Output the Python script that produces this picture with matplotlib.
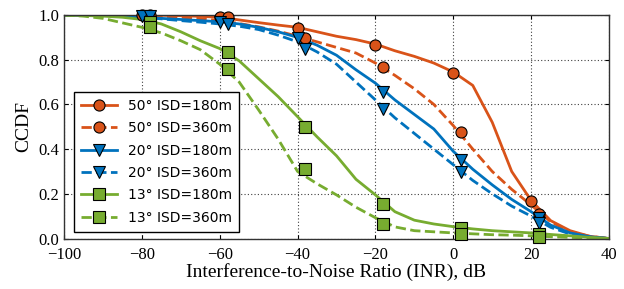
import numpy as np
import matplotlib
matplotlib.use("Agg")
import matplotlib.pyplot as plt

# INR axis (dB) for the curves
x_curve = [-100, -95, -90, -85, -80, -75, -70, -65, -60, -55, -50, -45, -40, -35,
           -30, -25, -20, -15, -10, -5, 0, 5, 10, 15, 20, 25, 30, 35, 40]

# CCDF curves
y_50_180 = [1.0, 1.0, 1.0, 1.0, 1.0, 0.999, 0.997, 0.994, 0.99, 0.978, 0.966, 0.955, 0.945, 0.925,
            0.905, 0.89, 0.87, 0.84, 0.815, 0.785, 0.745, 0.685, 0.52, 0.30, 0.17, 0.08, 0.035, 0.01, 0.0]
y_50_360 = [1.0, 1.0, 1.0, 0.999, 0.998, 0.995, 0.99, 0.984, 0.975, 0.962, 0.947, 0.928, 0.905, 0.88,
            0.855, 0.83, 0.785, 0.73, 0.67, 0.60, 0.505, 0.40, 0.30, 0.22, 0.15, 0.075, 0.03, 0.01, 0.0]
y_20_180 = [1.0, 0.999, 0.998, 0.995, 0.99, 0.985, 0.98, 0.975, 0.97, 0.96, 0.945, 0.925, 0.90, 0.865,
            0.82, 0.755, 0.695, 0.62, 0.555, 0.49, 0.39, 0.31, 0.24, 0.175, 0.12, 0.06, 0.025, 0.008, 0.0]
y_20_360 = [1.0, 0.999, 0.998, 0.995, 0.99, 0.983, 0.975, 0.968, 0.96, 0.95, 0.935, 0.91, 0.88, 0.835,
            0.78, 0.70, 0.62, 0.54, 0.47, 0.40, 0.33, 0.26, 0.20, 0.145, 0.10, 0.05, 0.02, 0.006, 0.0]
y_13_180 = [1.0, 0.998, 0.995, 0.99, 0.98, 0.96, 0.925, 0.885, 0.85, 0.795, 0.715, 0.635, 0.545, 0.455,
            0.37, 0.265, 0.195, 0.12, 0.082, 0.065, 0.053, 0.043, 0.035, 0.03, 0.025, 0.018, 0.012, 0.005, 0.0]
y_13_360 = [1.0, 0.995, 0.985, 0.965, 0.945, 0.92, 0.885, 0.845, 0.78, 0.70, 0.575, 0.445, 0.30, 0.245,
            0.195, 0.14, 0.093, 0.052, 0.035, 0.03, 0.025, 0.021, 0.017, 0.015, 0.012, 0.008, 0.005, 0.002, 0.0]

# marker positions
mx_50_180 = [-80, -60, -40, -20, 0, 20]
my_50_180 = [1.0, 0.99, 0.94, 0.867, 0.74, 0.168]
mx_50_360 = [-78, -58, -38, -18, 2, 22]
my_50_360 = [1.0, 0.99, 0.896, 0.766, 0.478, 0.11]
mx_20_180 = [-80, -60, -40, -18, 2, 22]
my_20_180 = [0.997, 0.97, 0.896, 0.655, 0.352, 0.09]
mx_20_360 = [-78, -58, -38, -18, 2, 22]
my_20_360 = [0.995, 0.96, 0.846, 0.58, 0.296, 0.068]
mx_13_180 = [-78, -58, -38, -18, 2, 22]
my_13_180 = [0.97, 0.833, 0.497, 0.154, 0.046, 0.022]
mx_13_360 = [-78, -58, -38, -18, 2, 22]
my_13_360 = [0.945, 0.758, 0.31, 0.064, 0.019, 0.008]

labels = ["50° ISD=180m", "50° ISD=360m", "20° ISD=180m",
          "20° ISD=360m", "13° ISD=180m", "13° ISD=360m"]

orange = "#D95319"
blue = "#0072BD"
green = "#77AC30"

series = [
    (y_50_180, mx_50_180, my_50_180, orange, "-", "o"),
    (y_50_360, mx_50_360, my_50_360, orange, "--", "o"),
    (y_20_180, mx_20_180, my_20_180, blue, "-", "v"),
    (y_20_360, mx_20_360, my_20_360, blue, "--", "v"),
    (y_13_180, mx_13_180, my_13_180, green, "-", "s"),
    (y_13_360, mx_13_360, my_13_360, green, "--", "s"),
]

plt.rcParams["font.family"] = "Liberation Serif"

fig = plt.figure(figsize=(6.24, 2.89), dpi=100)
ax = fig.add_axes([0.1026, 0.1747, 0.8734, 0.7733])

handles = []
for (y, mx, my, c, ls, m), lab in zip(series, labels):
    ax.plot(x_curve, y, color=c, ls=ls, lw=2.0, zorder=2)
    ax.plot(mx, my, ls="none", marker=m, ms=8, mfc=c, mec="black", mew=0.8,
            zorder=3, clip_on=False)
    h, = ax.plot([], [], color=c, ls=ls, lw=2.0, marker=m, ms=8, mfc=c,
                 mec="black", mew=0.8)
    handles.append(h)

ax.set_xlim(-100, 40)
ax.set_ylim(0, 1)
ax.set_xticks(np.arange(-100, 41, 20))
ax.set_yticks(np.arange(0, 1.01, 0.2))
ax.set_yticklabels(["0.0", "0.2", "0.4", "0.6", "0.8", "1.0"])
ax.tick_params(direction="in", labelsize=12, top=True, right=True, length=3)
ax.tick_params(axis="x", pad=6)
ax.grid(True, color="0.25", ls=(0, (1, 2)), lw=0.8)
for s in ax.spines.values():
    s.set_color("#333333")
    s.set_linewidth(1.0)

ax.set_xlabel("Interference-to-Noise Ratio (INR), dB", fontsize=14, labelpad=0)
ax.set_ylabel("CCDF", fontsize=14, labelpad=4)

leg = ax.legend(handles, labels, loc="lower left", bbox_to_anchor=(0.005, 0.0),
                prop={"family": "DejaVu Sans", "size": 10}, handlelength=2.6,
                labelspacing=0.6, borderpad=0.5, handletextpad=0.8,
                fancybox=False, framealpha=1)
leg.get_frame().set_edgecolor("black")
leg.get_frame().set_linewidth(1.0)

fig.savefig("out.png", dpi=100)
